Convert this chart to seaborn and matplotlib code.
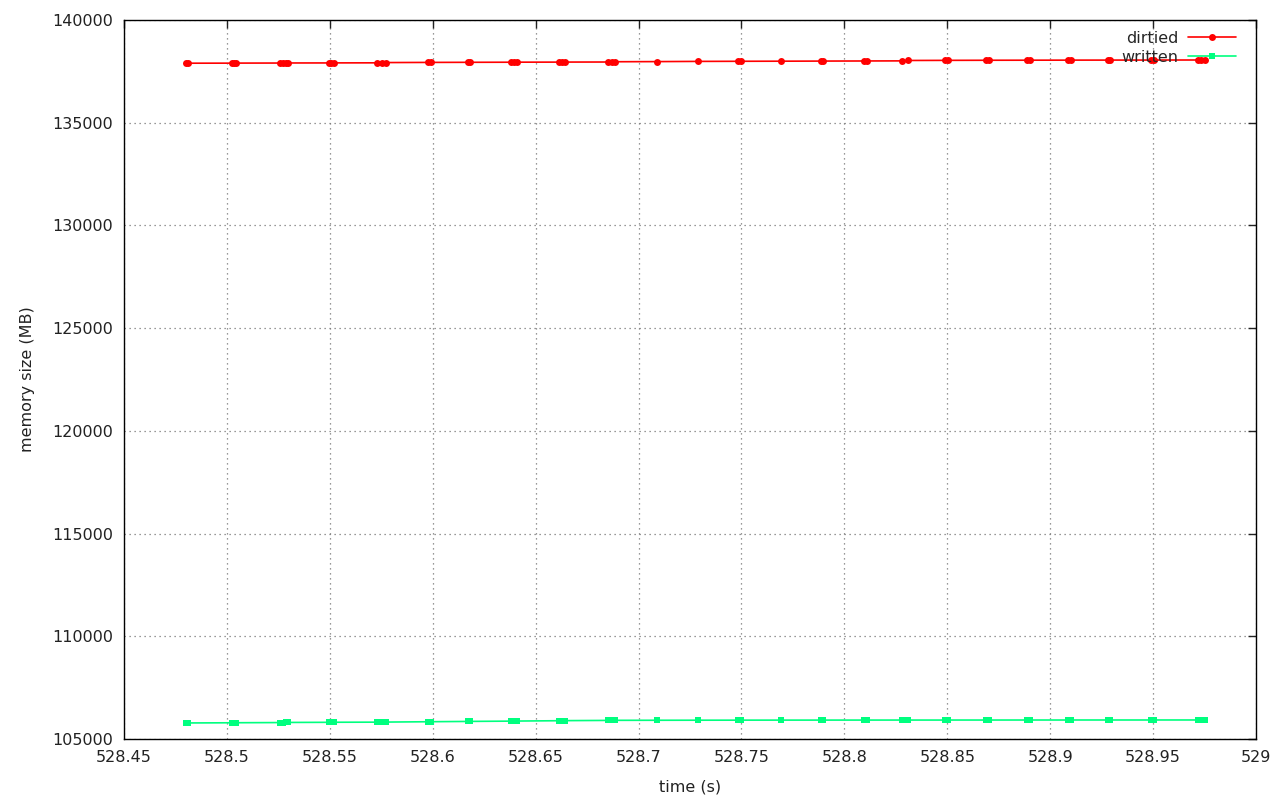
import numpy as np
import pandas as pd
import seaborn as sns
from matplotlib import pyplot as plt
from matplotlib.ticker import FormatStrFormatter, MultipleLocator

# sample times (s), grouped in small bursts
times = [
    528.4800, 528.4812,
    528.5025, 528.5035, 528.5045,
    528.5260, 528.5272, 528.5285, 528.5295,
    528.5495, 528.5508, 528.5520,
    528.5730, 528.5755, 528.5772,
    528.5975, 528.5990,
    528.6170, 528.6182,
    528.6380, 528.6395, 528.6410,
    528.6615, 528.6628, 528.6642,
    528.6850, 528.6872, 528.6885,
    528.7090,
    528.7290,
    528.7485, 528.7498,
    528.7690,
    528.7885, 528.7898,
    528.8095, 528.8108,
    528.8280, 528.8310,
    528.8488, 528.8502,
    528.8690, 528.8705,
    528.8885, 528.8900,
    528.9085, 528.9100,
    528.9280, 528.9292,
    528.9490, 528.9505,
    528.9720, 528.9735, 528.9750,
]

dirtied = [
    137895, 137897,
    137900, 137901, 137902,
    137905, 137906, 137907, 137908,
    137910, 137911, 137912,
    137915, 137925, 137928,
    137935, 137936,
    137940, 137941,
    137945, 137946, 137947,
    137950, 137951, 137952,
    137955, 137965, 137968,
    137975,
    137985,
    137990, 137991,
    137995,
    138000, 138001,
    138005, 138006,
    138010, 138030,
    138035, 138036,
    138040, 138041,
    138043, 138044,
    138046, 138047,
    138048, 138049,
    138050, 138051,
    138053, 138054, 138055,
]

written = [
    105780, 105781,
    105790, 105791, 105792,
    105800, 105802, 105804, 105806,
    105812, 105814, 105815,
    105820, 105822, 105824,
    105840, 105842,
    105855, 105857,
    105870, 105872, 105874,
    105890, 105892, 105894,
    105905, 105907, 105909,
    105912,
    105915,
    105917, 105918,
    105919,
    105920, 105920,
    105921, 105921,
    105922, 105922,
    105922, 105923,
    105923, 105923,
    105924, 105924,
    105924, 105925,
    105925, 105925,
    105925, 105926,
    105926, 105926, 105926,
]


def main():
    df = pd.concat([
        pd.DataFrame({"time": times, "mb": dirtied, "series": "dirtied"}),
        pd.DataFrame({"time": times, "mb": written, "series": "written"}),
    ])

    sns.set_style("white")
    fig = plt.figure(figsize=(12.8, 8), dpi=100)
    ax = fig.add_axes([124 / 1280, 61 / 800, 1132 / 1280, 719 / 800])

    sns.lineplot(data=df, x="time", y="mb", hue="series", style="series",
                 palette={"dirtied": "#ff0000", "written": "#00ff7f"},
                 markers={"dirtied": "o", "written": "s"}, dashes=False,
                 estimator=None, sort=False, linewidth=1.2, markersize=5,
                 markeredgewidth=0, ax=ax)

    ax.set_xlim(528.45, 529)
    ax.set_ylim(105000, 140000)
    ax.xaxis.set_major_locator(MultipleLocator(0.05))
    ax.yaxis.set_major_locator(MultipleLocator(5000))
    ax.xaxis.set_major_formatter(FormatStrFormatter("%g"))
    ax.yaxis.set_major_formatter(FormatStrFormatter("%d"))
    ax.tick_params(direction="in", length=6, width=1, top=True, right=True,
                   labelsize=11.5, colors="#222222", pad=8)
    ax.grid(True, linestyle=(0, (1, 3)), color="#777777", linewidth=0.9)
    for s in ax.spines.values():
        s.set_color("black")
        s.set_linewidth(1)

    ax.set_xlabel("time (s)", fontsize=11.5, labelpad=10, color="#222222")
    ax.set_ylabel("memory size (MB)", fontsize=11.5, labelpad=12, color="#222222")

    ax.legend(loc="upper right", bbox_to_anchor=(1 - 4 / 1132, 1 + 5 / 719),
              frameon=False, markerfirst=False,
              handlelength=3.0, fontsize=11.5, borderaxespad=0.8,
              labelspacing=0.25, handletextpad=0.6, borderpad=0.2)

    plt.savefig("out.png", dpi=100)


if __name__ == "__main__":
    main()
